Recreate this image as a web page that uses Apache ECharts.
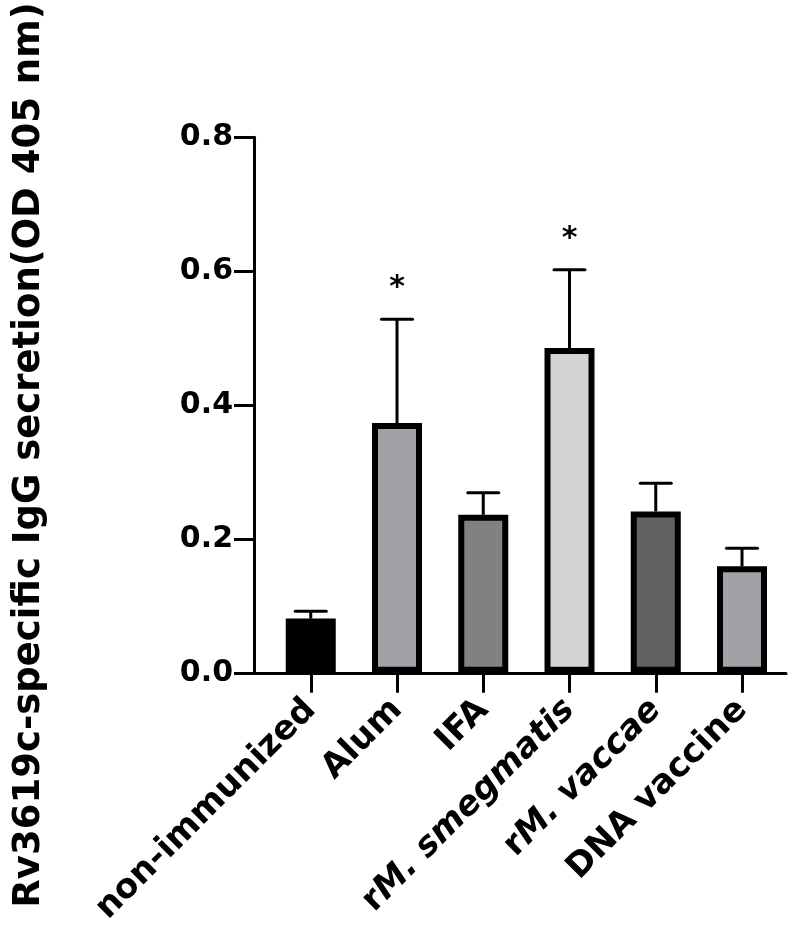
<!DOCTYPE html>
<html>
<head>
<meta charset="utf-8">
<script src="https://cdn.jsdelivr.net/npm/echarts@6/dist/echarts.min.js"></script>
<style>
  html, body { margin: 0; padding: 0; background: #ffffff; }
  #chart { width: 800px; height: 928px; }
</style>
</head>
<body>
<div id="chart"></div>
<script>
// ---- data ----
const categories = ['non-immunized', 'Alum', 'IFA', 'rM. smegmatis', 'rM. vaccae', 'DNA vaccine'];
const means = [0.081, 0.373, 0.236, 0.485, 0.241, 0.159];
const errors = [0.011, 0.155, 0.033, 0.117, 0.042, 0.027];
const significance = ['', '*', '', '*', '', ''];
const yTickValues = [0, 0.2, 0.4, 0.6, 0.8];
const yAxisTitle = 'Rv3619c-specific IgG secretion(OD 405 nm)';

// ---- styles ----
const fills = ['#000000', '#a2a1a6', '#818181', '#d4d4d4', '#626262', '#a2a1a6'];
const FONT = '"DejaVu Sans", sans-serif';

const positions = categories.map((c, i) => i);

function labelFor(name) {
  if (name.indexOf('rM. ') === 0) {
    return '{n|r}{i|' + name.slice(1) + '}';
  }
  return '{n|' + name + '}';
}

const chart = echarts.init(document.getElementById('chart'), null, { renderer: 'canvas' });

const option = {
  animation: false,
  backgroundColor: '#ffffff',
  grid: { left: 254, right: 14, top: 130, bottom: 254, containLabel: false },
  xAxis: {
    type: 'value',
    min: -0.658,
    max: 5.51,
    splitLine: { show: false },
    axisLine: { show: true, onZero: false, lineStyle: { color: '#000', width: 3 } },
    axisTick: { show: true, customValues: positions, length: 20, lineStyle: { color: '#000', width: 3 } },
    axisLabel: {
      show: true,
      customValues: positions,
      rotate: 45,
      margin: 32,
      formatter: function (v) { return labelFor(categories[Math.round(v)]); },
      rich: {
        n: { fontFamily: FONT, fontWeight: 'bold', fontSize: 34, color: '#000' },
        i: { fontFamily: FONT, fontWeight: 'bold', fontStyle: 'italic', fontSize: 34, color: '#000' }
      }
    }
  },
  yAxis: {
    type: 'value',
    min: yTickValues[0],
    max: yTickValues[yTickValues.length - 1],
    interval: 0.2,
    splitLine: { show: false },
    axisLine: { show: true, onZero: false, lineStyle: { color: '#000', width: 3 } },
    axisTick: { show: true, length: 20, lineStyle: { color: '#000', width: 3 } },
    axisLabel: {
      margin: 21,
      fontFamily: FONT,
      fontWeight: 'bold',
      fontSize: 30,
      color: '#000',
      formatter: function (v) { return v.toFixed(1); }
    },
    name: yAxisTitle,
    nameLocation: 'middle',
    nameGap: 206,
    nameTextStyle: {
      fontFamily: FONT,
      fontWeight: 'bold',
      fontSize: 37,
      color: '#000',
      padding: [0, 100, 0, 0]
    }
  },
  series: [
    {
      type: 'bar',
      barWidth: 50,
      z: 3,
      data: means.map((v, i) => ({
        value: [positions[i], v],
        itemStyle: { color: fills[i], borderColor: '#000', borderWidth: 6 }
      }))
    },
    {
      type: 'custom',
      z: 4,
      data: means.map((v, i) => [positions[i], v, v + errors[i], i]),
      renderItem: function (params, api) {
        const x = api.value(0);
        const base = api.coord([x, api.value(1)]);
        const top = api.coord([x, api.value(2)]);
        const idx = api.value(3);
        const half = 15.5;
        const children = [
          { type: 'line', shape: { x1: base[0], y1: base[1], x2: top[0], y2: top[1] },
            style: { stroke: '#000', lineWidth: 3 } },
          { type: 'line', shape: { x1: top[0] - half, y1: top[1], x2: top[0] + half, y2: top[1] },
            style: { stroke: '#000', lineWidth: 3, lineCap: 'round' } }
        ];
        if (significance[idx]) {
          children.push({
            type: 'text',
            style: {
              text: significance[idx], x: top[0], y: top[1] - 16,
              align: 'center', verticalAlign: 'bottom',
              font: 'bold 30px ' + FONT, fill: '#000'
            }
          });
        }
        return { type: 'group', children: children };
      }
    }
  ]
};

chart.setOption(option);
</script>
</body>
</html>
